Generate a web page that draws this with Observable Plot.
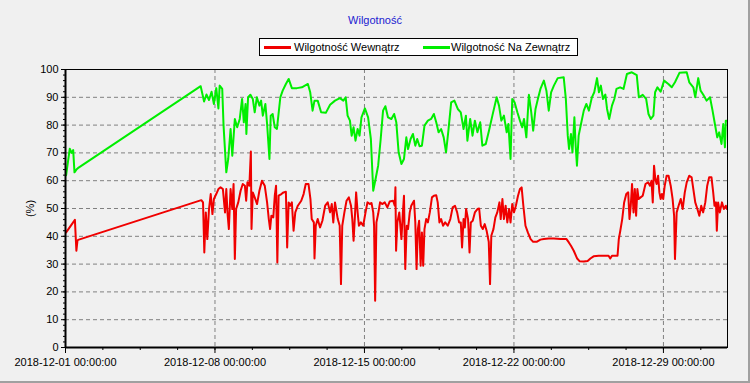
<!DOCTYPE html>
<html><head><meta charset="utf-8">
<script src="https://cdn.jsdelivr.net/npm/d3@7"></script>
<script src="https://cdn.jsdelivr.net/npm/@observablehq/plot@0.6"></script>
<style>
body{margin:0;background:#f0f0f0;}
#root{position:relative;width:750px;height:383px;background:#f0f0f0;font-family:"Liberation Sans",Arial,sans-serif;font-size:11px;overflow:hidden;}
#title{position:absolute;left:0;width:750px;top:13px;text-align:center;color:#2020d0;line-height:14px;}
#legend{position:absolute;left:259px;top:38px;width:317px;height:16px;border:1px solid #000;background:#fff;}
.sw{position:absolute;top:7px;width:27px;height:3px;}
.lt{position:absolute;top:1px;line-height:14px;white-space:nowrap;color:#000;}
#chart{position:absolute;left:0;top:60px;}
.bd{position:absolute;background:#a0a0a0;}
</style></head>
<body>
<div id="root">
  <div id="title"></div>
  <div id="legend">
    <div class="sw" id="sw1" style="left:4px"></div><div class="lt" id="lt1" style="left:34px"></div>
    <div class="sw" id="sw2" style="left:163px"></div><div class="lt" id="lt2" style="left:191px"></div>
  </div>
  <div id="chart"></div>
  <div class="bd" style="left:0;top:381px;width:750px;height:2px"></div>
  <div class="bd" style="left:748px;top:0;width:2px;height:383px"></div>
</div>
<script>
const titleText = "Wilgotność";
const seriesNames = ["Wilgotność Wewnątrz", "Wilgotność Na Zewnątrz"];
const seriesColors = ["#f00000", "#00ee00"];
const yTicks = [0,10,20,30,40,50,60,70,80,90,100];
const yLabel = "(%)";
const startDate = Date.UTC(2018, 11, 1);
const weekTickDays = [0, 7, 14, 21, 28];

// outside humidity (green): day offsets from 2018-12-01 and values
const outsideDays = [0.03,0.2,0.28,0.36,0.42,0.51,0.58,6.33,6.49,6.6,6.72,6.84,6.95,7.06,7.16,7.22,7.34,7.4,7.53,7.62,7.73,7.81,7.93,8.04,8.16,8.27,8.35,8.43,8.47,8.55,8.66,8.77,8.86,8.96,9.08,9.16,9.24,9.36,9.44,9.55,9.61,9.7,9.8,9.9,10.06,10.17,10.32,10.45,10.6,10.84,11.07,11.35,11.46,11.57,11.66,11.81,11.97,12.19,12.39,12.62,12.85,13.01,13.12,13.21,13.32,13.4,13.49,13.58,13.68,13.77,13.86,14.02,14.17,14.3,14.41,14.52,14.64,14.76,14.87,14.98,15.1,15.26,15.39,15.49,15.6,15.73,15.85,15.96,16.04,16.16,16.27,16.38,16.47,16.58,16.69,16.81,16.97,17.12,17.25,17.36,17.47,17.59,17.71,17.82,17.93,18.06,18.21,18.37,
18.51,18.64,18.75,18.82,18.95,19.06,19.17,19.29,19.42,19.52,19.68,19.83,19.99,20.19,20.3,20.41,20.53,20.66,20.74,20.84,20.92,21.03,21.16,21.28,21.39,21.47,21.58,21.7,21.81,21.9,22.01,22.12,22.24,22.4,22.52,22.63,22.74,22.87,23.05,23.33,23.43,23.52,23.58,23.67,23.74,23.83,23.89,23.95,24.03,24.14,24.27,24.39,24.51,24.65,24.76,24.89,24.98,25.07,25.17,25.28,25.36,25.46,25.59,25.7,25.8,25.97,26.13,26.29,26.52,26.75,26.85,27.03,27.19,27.3,27.41,27.53,27.61,27.72,27.87,28.03,28.23,28.39,28.54,28.75,29.09,29.21,29.4,29.49,29.63,29.74,29.86,30.02,30.18,30.3,30.41,30.52,30.61,30.72,30.8,30.88,30.92,30.98];
const outsideValues = [62,71.5,70,71,63,64,64.5,94,88.5,91,89,92,87.6,93.3,86,94.2,93,80,63,67.8,78.6,69,82.2,79.2,82.2,89.4,81,87.6,76.8,90,90.9,89.4,84.6,90,87,88.8,83.4,87.6,80.4,67.8,83.4,84,79.2,78.6,90,92.4,94.8,96.6,93.3,93.3,93.6,94.8,91.8,85.2,88.8,88.8,84.6,84.4,87.3,88.8,89.7,88.8,90,83.4,81.6,76.2,79.2,74.4,78.6,76.2,82.8,86,82.8,75,56.4,60.6,65.4,75,85.2,86.8,82.8,82.2,84,81,70.2,66,67.8,75.6,71.4,75,76.8,72.6,75,72.4,72.6,79.8,81.6,82.2,84,81,77.4,78.6,75.6,70.2,78,88.2,88.8,85.8,
84.6,78.6,83.4,74.4,82.2,76.2,81.6,77.4,81,72.6,73.2,78,83.4,90,87,81.6,83.4,77.4,80.4,67.8,89.4,88.2,84.6,81.6,79.2,82.2,75.6,90.9,84.6,78,85.8,89.4,93,96,92.4,85.2,91.8,94.2,96.9,97.2,89.4,76.2,71.4,76.8,70.2,82.8,72.6,65.4,76.2,80.4,85.2,87.6,85.2,90,91.8,96.9,91.8,94.2,89.4,91,85.8,82.2,87,89.4,93,93.6,93,98.4,99,98,90,90.9,89.4,84,82.2,83.4,91.8,93.6,92,96,94.8,93.6,95.4,98.8,99,95.4,93.6,90,96.9,92.4,91,88.8,90,85.2,80.4,75.6,77.4,73.2,80.4,72,81.6,81.6];

// inside humidity (red)
const insideDays = [0.03,0.44,0.51,0.56,0.59,6.36,6.44,6.5,6.57,6.64,6.72,6.8,6.88,6.95,7.06,7.16,7.26,7.37,7.47,7.53,7.59,7.65,7.73,7.81,7.87,7.93,7.99,8.09,8.2,8.3,8.4,8.46,8.52,8.61,8.68,8.71,8.77,8.86,8.97,9.08,9.2,9.33,9.44,9.52,9.58,9.64,9.73,9.8,9.86,9.92,9.98,10.11,10.21,10.32,10.38,10.45,10.52,10.6,10.68,10.76,10.88,11.04,11.15,11.25,11.38,11.47,11.53,11.63,11.66,11.72,11.81,11.92,12.03,12.16,12.28,12.39,12.47,12.54,12.62,12.75,12.84,12.9,12.96,13.06,13.16,13.27,13.37,13.43,13.49,13.55,13.61,13.68,13.74,13.83,13.94,14.05,14.14,14.25,14.33,14.41,14.45,14.5,14.56,14.64,14.73,14.83,14.95,15.07,15.18,15.34,15.42,15.45,15.48,15.54,15.63,15.73,15.8,15.85,15.91,15.98,16.04,16.12,16.19,16.32,16.38,16.44,16.5,16.56,16.63,16.69,16.75,16.81,16.89,16.97,17.06,17.16,17.25,17.36,17.43,17.51,17.59,17.68,17.78,17.9,18.02,18.13,18.24,18.34,18.43,
18.51,18.57,18.64,18.7,18.76,18.85,18.92,18.98,19.07,19.17,19.29,19.37,19.45,19.54,19.63,19.72,19.82,19.88,19.94,20.04,20.13,20.22,20.32,20.38,20.46,20.53,20.61,20.69,20.77,20.84,20.92,21.0,21.09,21.19,21.28,21.36,21.44,21.54,21.65,21.78,21.9,22.06,22.24,22.4,22.63,22.87,23.18,23.46,23.57,23.67,23.8,23.96,24.08,24.27,24.45,24.58,24.73,24.97,25.2,25.43,25.51,25.59,25.85,25.91,25.98,26.07,26.16,26.26,26.35,26.41,26.47,26.53,26.6,26.66,26.72,26.78,26.84,26.93,27.03,27.16,27.28,27.37,27.44,27.5,27.56,27.62,27.68,27.75,27.81,27.87,27.93,27.99,28.06,28.15,28.24,28.34,28.43,28.5,28.54,28.62,28.71,28.81,28.9,29.0,29.09,29.21,29.32,29.4,29.49,29.59,29.68,29.77,29.86,29.96,30.05,30.14,30.25,30.33,30.39,30.46,30.5,30.56,30.64,30.74,30.83,30.92,30.98];
const insideValues = [41.4,45.9,34.8,38.4,38.7,53,52.2,34.2,48.6,39,49.8,55.2,48,53.4,55.2,57,57.6,57,48.6,57,48,42.6,57,49.8,58.8,31.8,49.8,52.2,56.4,58.8,58.2,52.8,59.4,58.2,70.5,42.6,55.8,54,51.6,56.4,60,58.2,52.2,46.2,42.6,47.4,46.8,54.6,58.2,30.6,54.6,55.2,55.8,56,36,52.2,51,52.2,42,48.6,51,52.8,55.2,58.8,58.8,53.4,46.2,45,32,43.8,46.2,43.2,45.6,51,52.2,48.6,51.6,45,52.2,46.2,43.8,22.8,43.8,48.6,52.8,54,51,46.2,38.4,46.8,55.8,48.6,43.8,45,43.8,48.6,52.2,51.6,52,48.6,43.8,16.8,45,48,52.2,51.6,52.2,50.4,52.5,52.8,51,57.6,34.8,45,48.6,39,48.6,54.6,28.2,43.8,42.6,48.6,51,52.8,45,28.2,42.6,45.6,29.4,41.4,29.4,42.6,46.2,45,48.6,54,54.6,54.8,52.2,45,46.2,43.8,45,43.8,46.2,50.4,51,48.6,45,
45,36,46.2,43.2,49.8,46.2,34.2,45,45.6,48.6,49.8,50,43.8,42.6,44.4,42,38,22.8,40.2,42.6,46.8,48.6,52.2,46.2,53.4,46.2,51,45,49.8,45,51.6,48.6,51,54.6,57,57.6,51,43.8,41.4,39,38,38,38.8,39,39.2,39.2,39,39,37.8,36.6,34.8,32,31,30.9,31.1,32,32.8,33,33,33,32,33,33,39,42,46.2,52.2,55.2,55.8,46.2,51,58.8,48.6,57,47.4,57,53.4,54,54.6,58.8,59.4,58.2,60,52.2,65.4,60.6,58.8,61.8,55.8,53.4,55.2,53.4,58.2,61.8,61.8,58.2,53.4,47.4,31.8,48.6,51,53.4,49.8,55.8,59.4,61.8,61.2,57,52.2,49.8,47.4,51,48.6,52.2,58.2,61.2,61.2,55.8,51,52.2,42,52.2,48.6,52.2,49.8,51,49.8];

const toDate = d => new Date(startDate + d * 864e5);
const inside = insideDays.map((d, i) => ({date: toDate(d), value: insideValues[i]}));
const outside = outsideDays.map((d, i) => ({date: toDate(d), value: outsideValues[i]}));
const weekTicks = weekTickDays.map(toDate);
const minorTicks = d3.range(0, 31.01, 1.75).map(toDate);
const yMinor = d3.range(0, 100.01, 2);

document.getElementById("title").textContent = titleText;
document.getElementById("lt1").textContent = seriesNames[0];
document.getElementById("lt2").textContent = seriesNames[1];
document.getElementById("sw1").style.background = seriesColors[0];
document.getElementById("sw2").style.background = seriesColors[1];

const grid = {stroke: "#808080", strokeOpacity: 1, strokeDasharray: "4,3", strokeWidth: 1};
const chart = Plot.plot({
  width: 750, height: 323,
  marginTop: 9, marginBottom: 36, marginLeft: 65, marginRight: 23,
  style: {background: "transparent", fontFamily: "'Liberation Sans', Arial, sans-serif", fontSize: "11px", color: "#000", overflow: "visible"},
  x: {type: "utc", domain: [toDate(0), toDate(31)]},
  y: {domain: [0, 100]},
  marks: [
    Plot.gridY(yTicks, grid),
    Plot.gridX(weekTicks, grid),
    Plot.axisY(yMinor, {tickSize: 2, text: null, label: null}),
    Plot.axisY(yTicks, {tickSize: 4, tickPadding: 3, label: yLabel, labelAnchor: "center", labelArrow: "none", labelOffset: 39}),
    Plot.axisX(minorTicks, {tickSize: 3, text: null, label: null}),
    Plot.axisX(weekTicks, {tickSize: 6, tickPadding: 5, tickFormat: d3.utcFormat("%Y-%m-%d %H:%M:%S"), label: null}),
    Plot.line(outside, {x: "date", y: "value", stroke: seriesColors[1], strokeWidth: 2}),
    Plot.line(inside, {x: "date", y: "value", stroke: seriesColors[0], strokeWidth: 2}),
    Plot.frame({stroke: "#000", strokeWidth: 1}),
    Plot.ruleY([0], {stroke: "#000", strokeWidth: 2}),
    Plot.ruleX([toDate(0)], {stroke: "#000", strokeWidth: 2})
  ]
});
document.getElementById("chart").appendChild(chart);
</script>
</body></html>
